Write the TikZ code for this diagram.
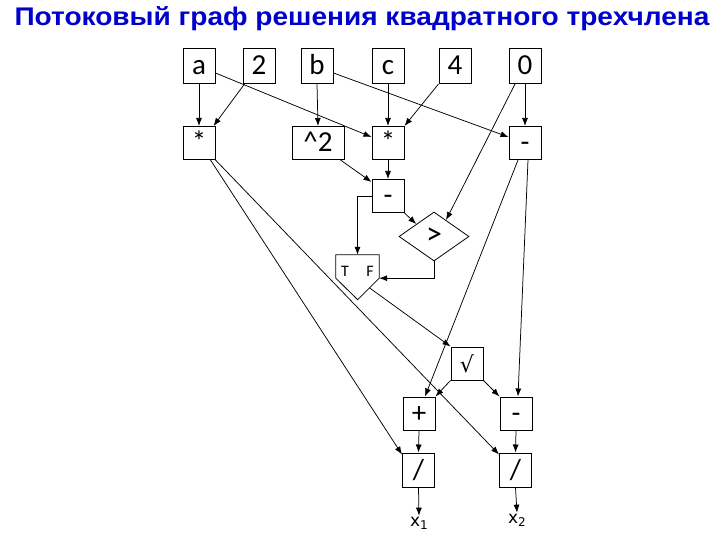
\documentclass[tikz,border=0pt]{standalone}
\usepackage{fontspec}
\setmainfont{Carlito}
\newfontfamily\titlefont{Liberation Sans}
\newfontfamily\symfont{DejaVu Sans}
\usetikzlibrary{shapes.geometric,arrows.meta,calc}
\definecolor{titleblue}{RGB}{0,0,204}
\tikzset{
  opbox/.style={draw, line width=1pt, minimum width=32pt, minimum height=33pt,
    inner sep=0pt, text height=18pt, text depth=0pt, font=\fontsize{29}{31}\selectfont},
  flow/.style={-{Latex[length=8pt,width=6pt]}, line width=0.75pt},
}
\begin{document}
\begin{tikzpicture}[x=1pt, y=-1pt]
    \useasboundingbox (0,0) rectangle (720,540);
    % Title
    \node[font=\titlefont\bfseries\fontsize{25.5}{28}\selectfont, text=titleblue] (title) at (362,19)
        {\scalebox{1.1}[1]{Потоковый граф решения квадратного трехчлена}};
    % Input row
    \foreach \name/\lbl/\x in {a/a/199, two/2/259, b/b/317, c/c/388, four/4/455, zero/0/525} {
        \node[opbox, minimum height=35pt] (\name) at (\x,66) {\lbl};
    }
    % Second row
    \node[opbox] (mulA) at (199,143) {*};
    \node[opbox, minimum width=52pt] (sq) at (318,143) {\textasciicircum 2};
    \node[opbox] (mulC) at (388,143) {*};
    \node[opbox] (subR) at (525,143) {-};
    % Discriminant and test
    \node[opbox] (subM) at (388,196) {-};
    \node[draw, diamond, line width=0.8pt, minimum width=70pt, minimum height=49pt,
        inner sep=0pt, font=\fontsize{32}{34}\selectfont] (gt) at (434,236.5) {>};
    % Switch T/F
    \node[minimum width=43pt, minimum height=23pt, inner sep=0pt] (tf) at (357.5,266.5) {};
    \draw[line width=0.8pt] (tf.north west) -- (tf.north east) -- (tf.south east)
        -- ++(-21.5,21.5) coordinate (tfpt) -- (tf.south west) -- cycle;
    \coordinate (tfout) at ($(tf.south east)!0.45!(tfpt)$);
    \node[font=\fontsize{16}{18}\selectfont] (tfT) at (345,271) {T};
    \node[font=\fontsize{16}{18}\selectfont] (tfF) at (370,271) {F};
    % Lower part
    \node[opbox, font=\symfont\fontsize{22}{24}\selectfont] (sqrt) at (467,363.5) {√};
    \node[opbox] (plus) at (419,413.5) {+};
    \node[opbox] (subB) at (516,413.5) {-};
    \node[opbox, minimum height=34pt] (divL) at (418.5,470) {/};
    \node[opbox, minimum height=34pt] (divR) at (515.5,470) {/};
    \node[font=\symfont\fontsize{17}{19}\selectfont, inner sep=1pt] (xone) at (419,523)
        {x\raisebox{-3pt}{\fontsize{12}{13}\selectfont 1}};
    \node[font=\symfont\fontsize{17}{19}\selectfont, inner sep=1pt] (xtwo) at (517,520)
        {x\raisebox{-3pt}{\fontsize{12}{13}\selectfont 2}};
    % Connectors
    \draw[flow] (a.south) -- (mulA.north);
    \draw[flow] ([xshift=2pt]two.south west) -- ([xshift=-2pt]mulA.north east);
    \draw[flow] ([yshift=-7pt]a.east) -- ([yshift=6pt]mulC.west);
    \draw[flow] (b.south) -- (sq.north);
    \draw[flow] (c.south) -- (mulC.north);
    \draw[flow] (four.south west) -- (mulC.north east);
    \draw[flow] ([yshift=-7pt]b.east) -- ([yshift=6pt]subR.west);
    \draw[flow] (zero.south) -- (subR.north);
    \draw[flow] ([xshift=-4pt]sq.south east) -- ([yshift=-3pt]subM.north west);
    \draw[flow] (mulC.south) -- (subM.north);
    \draw[flow] (subM.south east) -- (gt.north west);
    \draw[flow] ([xshift=-10pt]zero.south) -- ($(gt.north)!0.34!(gt.east)$);
    \draw[flow] (subM.west) -| (tf.north);
    \draw[flow] (gt.south) |- (tf.south east);
    \draw[flow] (tfout) -- (sqrt.north west);
    \draw[flow] ([xshift=-7pt]subR.south) -- ([xshift=6pt]plus.north);
    \draw[flow] ([xshift=3pt]subR.south) -- ([xshift=2pt]subB.north);
    \draw[flow] (sqrt.south west) -- (plus.north east);
    \draw[flow] (sqrt.south east) -- (subB.north west);
    \draw[flow] ([xshift=-5pt]mulA.south east) -- ([yshift=-2pt]divL.north west);
    \draw[flow] (mulA.south east) -- ([yshift=-2pt]divR.north west);
    \draw[flow] (plus.south) -- (divL.north);
    \draw[flow] (subB.south) -- (divR.north);
    \draw[flow] (divL.south) -- (xone.north);
    \draw[flow] (divR.south) -- (xtwo.north);
\end{tikzpicture}
\end{document}
